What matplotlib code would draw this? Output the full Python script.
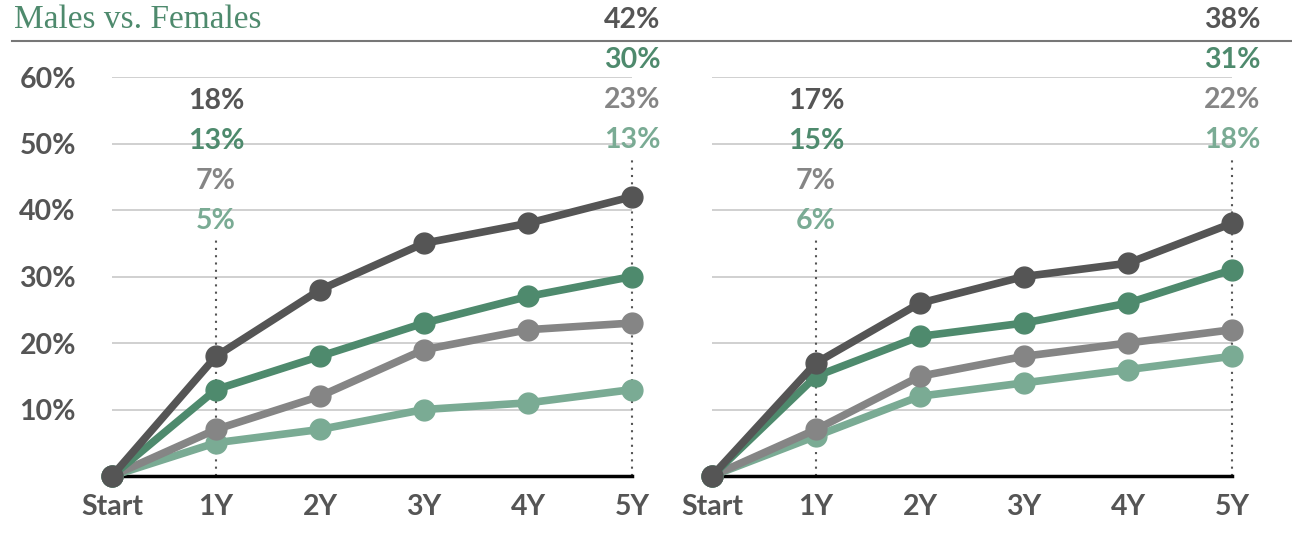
import matplotlib
matplotlib.use("Agg")
import matplotlib.pyplot as plt

# time points
periods = ["Start", "1Y", "2Y", "3Y", "4Y", "5Y"]

# left panel
left_dark = [0, 18, 28, 35, 38, 42]
left_green = [0, 13, 18, 23, 27, 30]
left_gray = [0, 7, 12, 19, 22, 23]
left_light = [0, 5, 7, 10, 11, 13]

# right panel
right_dark = [0, 17, 26, 30, 32, 38]
right_green = [0, 15, 21, 23, 26, 31]
right_gray = [0, 7, 15, 18, 20, 22]
right_light = [0, 6, 12, 14, 16, 18]

yticks = [10, 20, 30, 40, 50, 60]
ytick_labels = ["10%", "20%", "30%", "40%", "50%", "60%"]
title = "Males vs. Females"

c_dark = "#555555"
c_green = "#4e8a6d"
c_gray = "#858585"
c_light = "#7aab94"

W, H = 1292, 533
fig = plt.figure(figsize=(W / 100, H / 100), dpi=100)

font = "Lato"


def panel(left_px, series, show_yticks):
    ax = fig.add_axes([left_px / W, (H - 476) / H, 520 / W, 399 / H])
    x = list(range(len(periods)))
    colors = [c_light, c_gray, c_green, c_dark]
    # draw light series first so dark is on top
    for vals, c in zip(series[::-1], colors):
        ax.plot(x, vals, color=c, lw=5.5, marker="o", ms=15,
                clip_on=False, zorder=3, solid_capstyle="round")
    ax.set_xlim(0, 5)
    ax.set_ylim(0, 60)
    ax.set_yticks(yticks)
    ax.grid(axis="y", color="#c8c8c8", lw=1.2)
    ax.set_axisbelow(True)
    for s in ["top", "right", "left"]:
        ax.spines[s].set_visible(False)
    ax.spines["bottom"].set_linewidth(2.5)
    ax.spines["bottom"].set_color("black")
    ax.spines["bottom"].set_zorder(2)
    ax.set_xticks(x)
    ax.set_xticklabels(periods)
    ax.tick_params(length=0, pad=13, labelsize=20.5, labelcolor="#555555")
    for t in ax.get_xticklabels():
        t.set_fontfamily(font)
        t.set_fontweight("bold")
    if show_yticks:
        ax.set_yticklabels(ytick_labels)
        for t in ax.get_yticklabels():
            t.set_fontfamily(font)
            t.set_fontweight("bold")
        ax.tick_params(axis="y", pad=26)
    else:
        ax.set_yticklabels([])

    # value labels stacked above 1Y and 5Y
    label_colors = [c_dark, c_green, c_gray, c_light]
    for idx, top in [(1, 56.4), (5, 68.6)]:
        for k, (vals, c) in enumerate(zip(series, label_colors)):
            ax.text(idx, top - 6 * k, f"{vals[idx]}%", color=c, fontsize=20.5,
                    fontfamily=font, fontweight="bold", ha="center",
                    va="center", clip_on=False, zorder=4)
        ax.plot([idx, idx], [0, top - 6 * 3 - 2.9], color="#555555", lw=1.5,
                ls=(0, (1, 2.5)), zorder=1, clip_on=False)
    return ax


panel(112, [left_dark, left_green, left_gray, left_light], True)
panel(712, [right_dark, right_green, right_gray, right_light], False)

fig.text(14 / W, 1 - 20 / H, title, fontsize=24, fontfamily="Liberation Serif",
         color=c_green, va="center", ha="left")
fig.add_artist(plt.Line2D([12 / W, 1.0], [1 - 41 / H, 1 - 41 / H],
                          color="#777777", lw=1.5, transform=fig.transFigure))

fig.savefig("out.png", dpi=100)
